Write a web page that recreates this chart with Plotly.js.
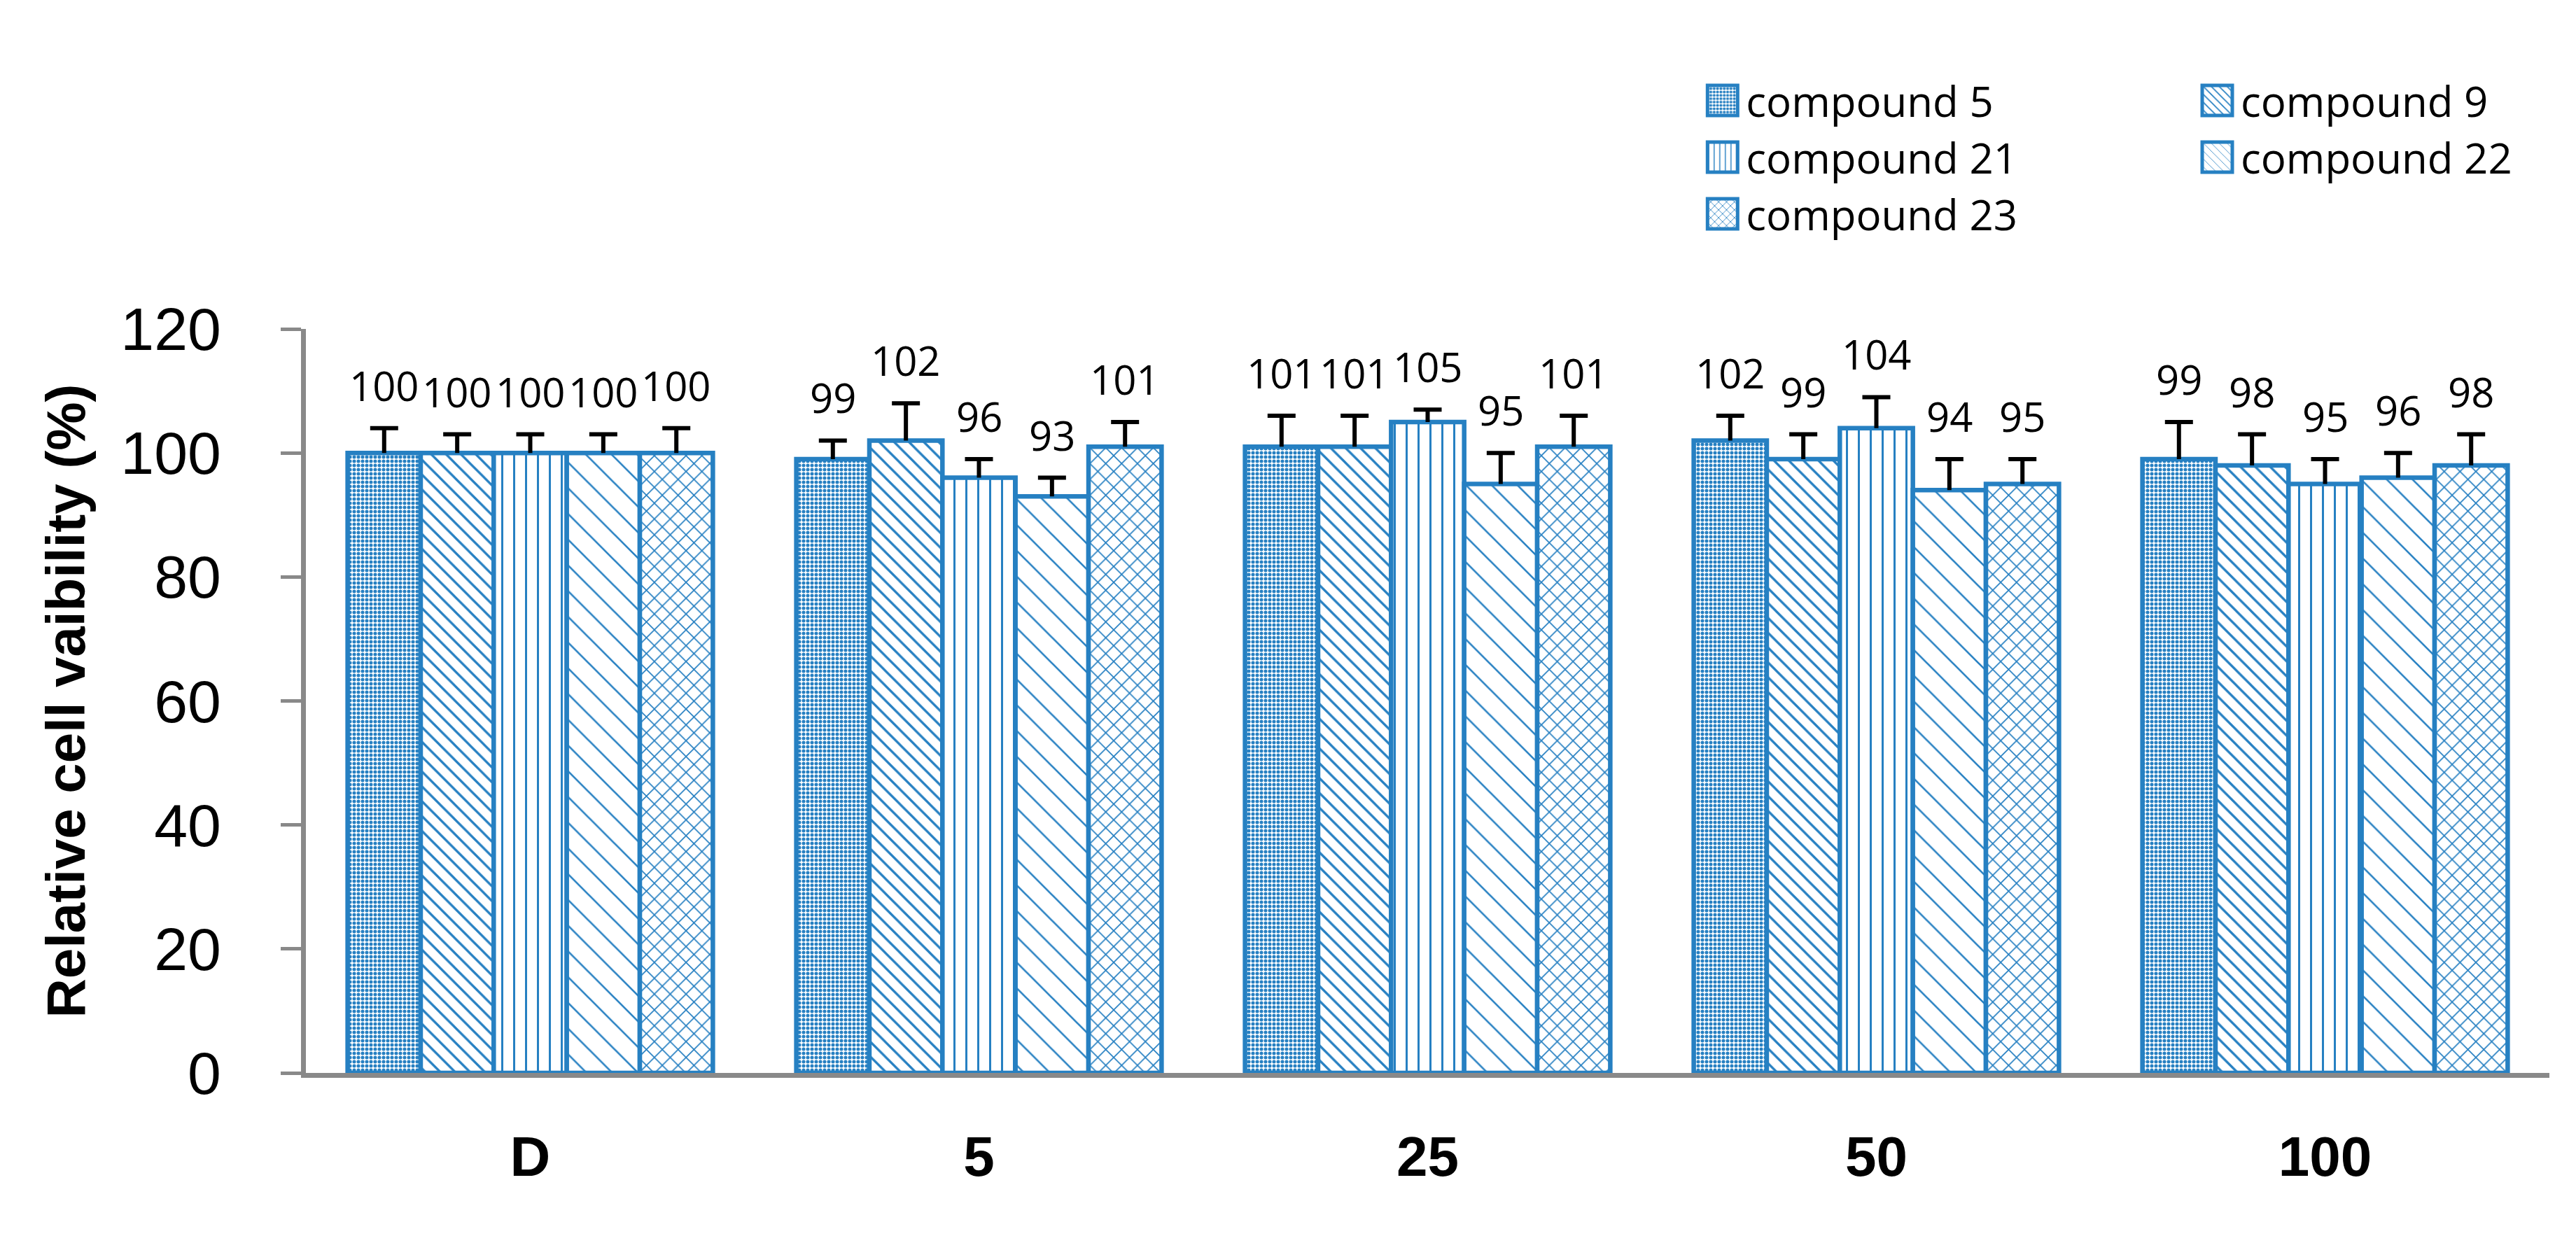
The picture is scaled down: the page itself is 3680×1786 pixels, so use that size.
<!DOCTYPE html>
<html>
<head>
<meta charset="utf-8">
<script src="https://cdn.plot.ly/plotly-3.0.1.min.js"></script>
<style>
html, body { margin: 0; padding: 0; background: #ffffff; }
#chart { width: 3680px; height: 1786px; }
</style>
</head>
<body>
<div id="chart"></div>
<script>
// ---- data ----
const categories = ['D', '5', '25', '50', '100'];
const seriesNames = ['compound 5', 'compound 9', 'compound 21', 'compound 22', 'compound 23'];
const compound5  = [100, 99, 101, 102, 99];
const compound9  = [100, 102, 101, 99, 98];
const compound21 = [100, 96, 105, 104, 95];
const compound22 = [100, 93, 95, 94, 96];
const compound23 = [100, 101, 101, 95, 98];
const err5  = [4, 3, 5, 4, 6];
const err9  = [3, 6, 5, 4, 5];
const err21 = [3, 3, 2, 5, 4];
const err22 = [3, 3, 5, 5, 4];
const err23 = [4, 4, 5, 4, 5];
const yTickVals = [0, 20, 40, 60, 80, 100, 120];

// ---- styles ----
const BLUE = '#2680C2';
const AXIS = '#898989';
const BARGAP = 0.186;
const patterns = [
  { shape: '.',  size: 6,  solidity: 0.55 },
  { shape: '\\', size: 15, solidity: 0.22 },
  { shape: '|',  size: 17, solidity: 0.18 },
  { shape: '\\', size: 26, solidity: 0.10 },
  { shape: 'x',  size: 16, solidity: 0.2 }
];
// legend column of each series (two-column legend as in the reference)
const legendOf = ['legend', 'legend2', 'legend', 'legend2', 'legend'];

const values = [compound5, compound9, compound21, compound22, compound23];
const errors = [err5, err9, err21, err22, err23];

const traces = values.map(function (vals, i) {
  return {
    type: 'bar',
    name: seriesNames[i],
    legend: legendOf[i],
    x: categories,
    y: vals,
    marker: {
      color: '#ffffff',
      line: { color: BLUE, width: 6.5 },
      pattern: {
        shape: patterns[i].shape,
        size: patterns[i].size,
        solidity: patterns[i].solidity,
        fgcolor: BLUE,
        bgcolor: '#ffffff',
        fillmode: 'replace'
      }
    },
    error_y: {
      type: 'data',
      symmetric: false,
      array: errors[i],
      arrayminus: errors[i].map(function () { return 0; }),
      color: '#000000',
      thickness: 6,
      width: 20
    },
    hoverinfo: 'skip'
  };
});

const nSeries = values.length;
const barW = (1 - BARGAP) / nSeries;
const annotations = [];
values.forEach(function (vals, i) {
  vals.forEach(function (v, j) {
    annotations.push({
      x: j + (i - (nSeries - 1) / 2) * barW,
      y: v + errors[i][j],
      xref: 'x', yref: 'y',
      text: String(v),
      showarrow: false,
      yanchor: 'bottom',
      xanchor: 'center',
      yshift: 20,
      font: { family: 'Open Sans, Noto Sans, sans-serif', size: 58, color: '#000000' }
    });
  });
});

const legendFont = { family: 'Open Sans, Noto Sans, sans-serif', size: 60, color: '#000000' };
const Y_STAND = 60, X_STAND = 45, TITLE_STAND = 30;
const layout = {
  width: 3680,
  height: 1786,
  paper_bgcolor: '#ffffff',
  plot_bgcolor: '#ffffff',
  margin: { l: 437, r: 38, t: 470, b: 252.5, autoexpand: false },
  barmode: 'group',
  bargap: BARGAP,
  bargroupgap: 0,
  showlegend: true,
  legend: {
    orientation: 'v',
    x: 0.621, y: 1.35,
    xanchor: 'left', yanchor: 'top',
    itemwidth: 57,
    traceorder: 'normal',
    bgcolor: 'rgba(0,0,0,0)',
    font: legendFont
  },
  legend2: {
    orientation: 'v',
    x: 0.8415, y: 1.35,
    xanchor: 'left', yanchor: 'top',
    itemwidth: 57,
    traceorder: 'normal',
    bgcolor: 'rgba(0,0,0,0)',
    font: legendFont
  },
  xaxis: {
    type: 'category',
    range: [-0.5, 4.5],
    showline: true,
    linecolor: AXIS,
    linewidth: 7,
    ticks: '',
    showgrid: false,
    zeroline: false,
    ticklabelstandoff: X_STAND,
    tickfont: { family: 'Liberation Sans, Arial, sans-serif', size: 80, color: '#000000', weight: 'bold' }
  },
  yaxis: {
    range: [0, 120],
    tickmode: 'array',
    tickvals: yTickVals,
    ticktext: yTickVals.map(String),
    ticks: 'outside',
    ticklen: 29,
    tickwidth: 5,
    tickcolor: AXIS,
    showline: true,
    linecolor: AXIS,
    linewidth: 7,
    showgrid: false,
    zeroline: false,
    ticklabelstandoff: Y_STAND,
    tickfont: { family: 'Liberation Sans, Arial, sans-serif', size: 86, color: '#000000' },
    title: {
      text: 'Relative cell vaibility (%)',
      standoff: TITLE_STAND,
      font: { family: 'Liberation Sans, Arial, sans-serif', size: 78, color: '#000000', weight: 'bold' }
    }
  },
  annotations: annotations
};

function rects(gd, sel) {
  return Array.prototype.map.call(gd.querySelectorAll(sel), function (e) { return e.getBoundingClientRect(); });
}

function finish(gd) {
  // larger legend swatches, as in the reference
  gd.querySelectorAll('.legendpoints path').forEach(function (p) {
    p.setAttribute('d', 'M21.5,21.5H-21.5V-21.5H21.5Z');
  });
  // one-sided (upper) error bars: drop the lower cross-bar
  gd.querySelectorAll('.errorbar path.yerror').forEach(function (p) {
    var d = p.getAttribute('d') || '';
    p.setAttribute('d', d.replace(/m-[\d.]+,0h[\d.]+$/, ''));
  });
}

Plotly.newPlot('chart', traces, layout, { staticPlot: true, displayModeBar: false }).then(function (gd) {
  // place tick labels and title where the reference has them
  var upd = {};
  var yr = rects(gd, '.yaxislayer-above .ytick text');
  var dy = 0;
  if (yr.length) {
    var right = Math.max.apply(null, yr.map(function (b) { return b.right; }));
    dy = right - 315.5;
    upd['yaxis.ticklabelstandoff'] = Math.max(0, Math.round(Y_STAND + dy));
  }
  var xr = rects(gd, '.xaxislayer-above .xtick text');
  if (xr.length) {
    var top = Math.min.apply(null, xr.map(function (b) { return b.top; }));
    upd['xaxis.ticklabelstandoff'] = Math.max(0, Math.round(X_STAND + (1607.6 - top)));
  }
  var tt = gd.querySelector('.g-ytitle text');
  if (tt) {
    var tb = tt.getBoundingClientRect();
    upd['yaxis.title.standoff'] = Math.max(0, Math.round(TITLE_STAND + (tb.left - dy - 50.5)));
  }
  return Plotly.relayout(gd, upd);
}).then(function (gd) {
  finish(gd);
  setTimeout(function () { finish(gd); }, 50);
});
</script>
</body>
</html>
